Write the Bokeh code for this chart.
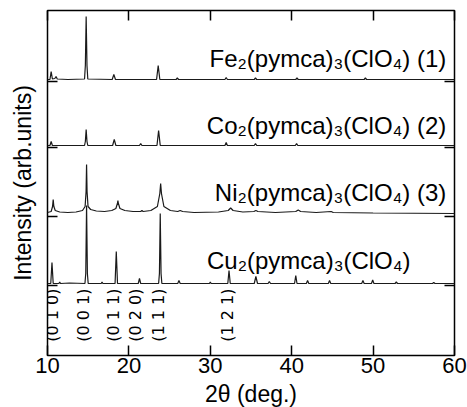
import math
from bokeh.plotting import figure
from bokeh.models import LinearAxis, FixedTicker, Range1d
from bokeh.core.properties import value
from bokeh.embed import file_html
from bokeh.resources import INLINE

FONT = "Liberation Sans"

# ---------------- data ----------------
# 2theta (deg.) and intensity above each pattern's own baseline (arb. units)
fe_x = [10.0, 10.3, 10.45, 10.6, 10.9, 11.05, 11.2, 12.5, 14.55, 14.65, 14.75, 14.85, 14.95,
        17.95, 18.15, 18.35, 23.4, 23.6, 23.8, 25.8, 25.95, 26.1, 31.8, 31.95, 32.1,
        35.4, 35.55, 35.7, 40.5, 40.65, 40.8, 48.9, 49.05, 49.2, 60.0]
fe_y = [0, 0, 8, 0.5, 1, 3, 0.5, 0, 0.5, 14, 63, 14, 0.5,
        0, 5, 0, 0, 14, 0, 0, 1.5, 0, 0, 2, 0,
        0, 1.5, 0, 0, 1.5, 0, 0, 1.5, 0, 0]

co_x = [10.0, 10.3, 10.45, 10.6, 14.55, 14.65, 14.75, 14.85, 14.95, 18.0, 18.2, 18.4,
        21.3, 21.45, 21.6, 23.45, 23.65, 23.85, 31.8, 31.95, 32.1, 35.4, 35.55, 35.7,
        40.45, 40.6, 40.75, 60.0]
co_y = [0, 0, 4, 0, 0, 4, 16, 4, 0, 0, 6, 0,
        0, 2, 0, 0, 15, 0, 0, 3, 0, 0, 2, 0,
        0, 2, 0, 0]

ni_x = [10.0, 10.45, 10.62, 10.7, 10.78, 10.95, 11.5, 12.5, 13.5, 14.3, 14.62, 14.74, 14.8, 14.86,
        14.98, 15.3, 16.0, 17.0, 17.9, 18.4, 18.59, 18.65, 18.71, 18.9, 19.5, 20.5, 21.45,
        21.6, 21.75, 22.7, 23.5, 23.8, 23.9, 24.0, 24.3, 25.1, 26.0, 26.3, 26.6, 28.0, 31.0,
        32.2, 32.5, 32.8, 34.0, 35.35, 35.6, 35.85, 38.0, 40.5, 40.8, 41.1, 43.0, 44.85, 45.1,
        50.0, 60.0]
ni_y = [1, 2, 7, 14, 7, 3, 1.5, 1, 1.5, 3, 7, 22, 49, 22,
        7, 4, 2.5, 2, 3, 5, 10, 13, 10, 5, 3, 2, 2,
        3, 2, 3, 7, 20, 30, 20, 7, 3, 2, 3, 2, 1, 1.5,
        3, 5.5, 3, 1.5, 2, 3, 2, 1, 2, 3.5, 2, 1, 2, 1,
        0.5, 0]

cu_x = [10.0, 10.4, 10.55, 10.7, 11.4, 11.5, 11.6, 12.7, 14.6, 14.7, 14.8, 14.9, 15.0,
        16.6, 16.7, 16.8, 18.3, 18.45, 18.6, 21.15, 21.3, 21.45, 23.65, 23.75, 23.85, 23.95,
        24.05, 26.0, 26.15, 26.3, 29.9, 30.0, 30.1, 32.15, 32.3, 32.45, 35.4, 35.6, 35.8,
        37.1, 37.25, 37.4, 40.35, 40.5, 40.65, 41.8, 41.95, 42.1, 44.5, 44.65, 44.8,
        48.6, 48.75, 48.9, 49.8, 49.95, 50.1, 52.7, 52.85, 53.0, 57.3, 57.45, 57.6, 60.0]
cu_y = [0, 0, 21, 0, 0, 1.5, 0, 0.5, 0, 10, 78, 10, 0,
        0, 1.5, 0, 0, 32, 0, 0, 5, 0, 0, 10, 70, 10,
        0, 0, 3, 0, 0, 1.5, 0, 0, 13, 0, 0, 7, 0,
        0, 2, 0, 0, 8, 0, 0, 3, 0, 0, 3, 0,
        0, 3, 0, 0, 3.5, 0, 0, 1.5, 0, 0, 1, 0, 0]

offsets = [276, 210, 142, 72]          # vertical stacking offsets (Fe, Co, Ni, Cu)
ytick_marks = [274, 208, 139, 70]      # small baseline marks on the frame
names = ["Fe\u2082(pymca)\u2083(ClO\u2084) (1)", "Co\u2082(pymca)\u2083(ClO\u2084) (2)",
         "Ni\u2082(pymca)\u2083(ClO\u2084) (3)", "Cu\u2082(pymca)\u2083(ClO\u2084)"]
name_x = [59.0, 59.0, 59.0, 54.6]
name_y = [297, 230, 163, 95]

hkl_labels = ["(0 1 0)", "(0 0 1)", "(0 1 1)", "(0 2 0)", "(1 1 1)", "(1 2 1)"]
hkl_pos = [10.6, 14.4, 18.1, 20.8, 23.6, 32.1]
hkl_top = 67

x_ticks = [10, 20, 30, 40, 50, 60]

# ---------------- figure ----------------
p = figure(frame_width=407, frame_height=345, x_range=Range1d(10, 60), y_range=Range1d(0, 345),
           output_backend="svg", toolbar_location=None,
           min_border_left=47, min_border_right=13, min_border_top=10, min_border_bottom=52)
p.background_fill_color = "white"
p.border_fill_color = "white"
p.grid.visible = False
p.outline_line_color = "black"
p.outline_line_width = 1.5

series = [(fe_x, fe_y), (co_x, co_y), (ni_x, ni_y), (cu_x, cu_y)]
for (xs, ys), off in zip(series, offsets):
    p.line(xs, [v + off for v in ys], line_color="#1a1a1a", line_width=1.2)

p.text(x=name_x, y=name_y, text=names, text_align="right", text_baseline="alphabetic",
       text_font=value(FONT), text_font_size="24px", text_color="black")

p.text(x=hkl_pos, y=[hkl_top] * len(hkl_pos), text=hkl_labels, angle=math.pi / 2,
       text_align="right", text_baseline="middle",
       text_font=value("DejaVu Sans"), text_font_size="16px", text_color="black")

# bottom axis
xa = p.xaxis[0]
xa.ticker = FixedTicker(ticks=x_ticks)
xa.major_tick_in = 10
xa.major_tick_out = 0
xa.minor_tick_line_color = None
xa.axis_line_color = None
xa.major_tick_line_color = "black"
xa.major_tick_line_width = 1.5
xa.major_label_text_font = FONT
xa.major_label_text_font_size = "22px"
xa.major_label_text_color = "black"
xa.major_label_standoff = 2
xa.axis_label = "2\u03b8 (deg.)"
xa.axis_label_text_font = FONT
xa.axis_label_text_font_size = "23px"
xa.axis_label_text_font_style = "normal"
xa.axis_label_text_color = "black"
xa.axis_label_standoff = 5

# top axis (ticks only)
top = LinearAxis(ticker=FixedTicker(ticks=x_ticks), major_tick_in=10, major_tick_out=0,
                 minor_tick_line_color=None, axis_line_color=None,
                 major_tick_line_color="black", major_tick_line_width=1.5,
                 major_label_text_color=None, major_label_standoff=0)
p.add_layout(top, "above")

# left axis
ya = p.yaxis[0]
ya.ticker = FixedTicker(ticks=ytick_marks)
ya.major_tick_in = 10
ya.major_tick_out = 0
ya.minor_tick_line_color = None
ya.axis_line_color = None
ya.major_tick_line_color = "black"
ya.major_tick_line_width = 1.5
ya.major_label_text_color = None
ya.major_label_standoff = 0
ya.axis_label = "Intensity (arb.units)"
ya.axis_label_text_font = FONT
ya.axis_label_text_font_size = "23px"
ya.axis_label_text_font_style = "normal"
ya.axis_label_text_color = "black"
ya.axis_label_standoff = 12

right = LinearAxis(ticker=FixedTicker(ticks=ytick_marks), major_tick_in=10, major_tick_out=0,
                   minor_tick_line_color=None, axis_line_color=None,
                   major_tick_line_color="black", major_tick_line_width=1.5,
                   major_label_text_color=None, major_label_standoff=0)
p.add_layout(right, "right")

open("out.html", "w").write(file_html(p, INLINE))
